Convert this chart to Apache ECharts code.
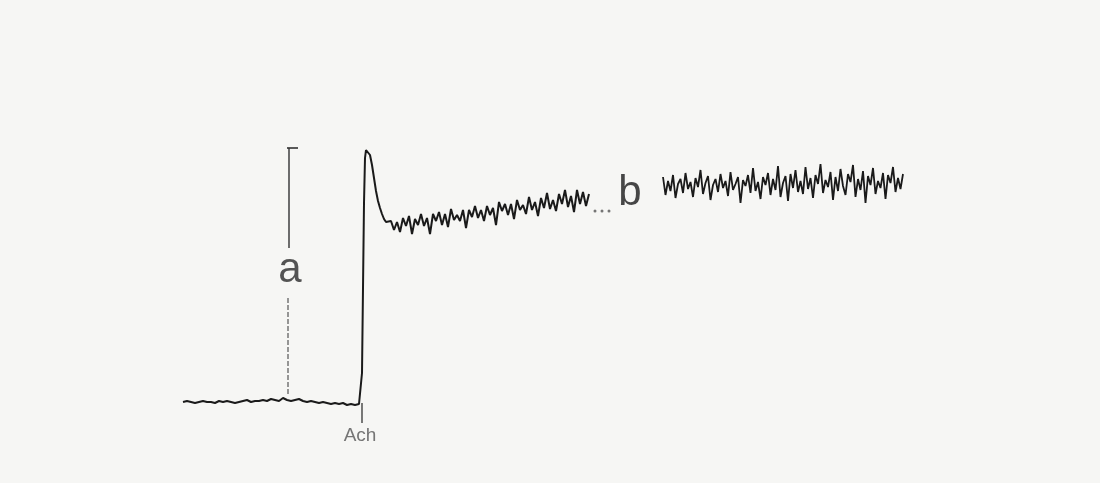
<!DOCTYPE html>
<html><head><meta charset="utf-8">
<script src="https://cdn.jsdelivr.net/npm/echarts@6/dist/echarts.min.js"></script>
<style>html,body{margin:0;padding:0;background:#f6f6f4}#c{width:1100px;height:483px}</style>
</head><body><div id="c"></div>
<script>
// Time axis: 0 = Ach application; response in arbitrary units (baseline = 0, peak "a" = 255)
const baselineStart = -179, baselineStep = 4;
const baselineVals = [1,2,1,0,1,2,1,1,0,2,1,2,1,0,1,2,3,1,2,2,3,2,4,3,2,5,3,2,3,4,2,1,2,1,0,1,0,-1,0,-1,0,-2,-1,-2,-1];
const peakTimes = [-1,0,2,3,4,5,6,8,10,12,14,16,18,20,22,24,26];
const peakVals  = [-2,30,200,245,253,255,253,248,238,225,212,202,195,189,184,181,180];
const phase1Start = 29, phase1Step = 3;
const phase1Vals = [182,173,181,171,185,177,187,169,184,178,189,177,185,169,189,182,191,178,189,176,194,183,188,182,193,175,193,186,197,185,193,182,197,188,195,178,201,192,199,188,199,184,203,193,198,189,206,193,201,187,205,195,210,194,203,192,209,199,213,196,207,191,213,199,211,197,209];
const phaseBStart = 301, phaseBStep = 2.5;
const phaseBVals = [226,208,222,212,228,205,219,224,210,230,214,221,206,225,216,233,209,220,227,203,218,224,211,229,215,222,207,231,213,219,226,200,223,217,228,210,235,212,221,204,226,218,230,208,224,213,237,206,220,227,202,229,215,233,211,222,209,236,214,225,205,228,219,239,210,223,216,231,203,226,212,234,217,208,229,221,238,206,224,213,232,200,227,218,235,209,222,215,230,204,228,220,236,211,225,214,229];
const gapDotTimes = [233,240,247];
const gapDotVal = 192;
const scaleBarT = -73, scaleBarTop = 255, scaleBarBottom = 155;
const scaleDashT = -74, scaleDashTop = 105, scaleDashBottom = 8;
const capLeft = -75, capRight = -64;
const achMarkBottom = -20;
const labels = [{t:-72,v:133,text:'a'},{t:268,v:210,text:'b'},{t:-2,v:-33,text:'Ach'}];

const seq = (start, step, vals) => vals.map((v,i)=>[start+i*step, v]);
const mk = (data, style) => ({type:'line', data, symbol:'none', animation:false, silent:true, lineStyle:style, z:3});

const peakData = peakTimes.map((t,i)=>[t,peakVals[i]]);
const seg1 = seq(baselineStart, baselineStep, baselineVals).concat(peakData, seq(phase1Start, phase1Step, phase1Vals));
const font = 'Liberation Sans, Arial, sans-serif';

const chart = echarts.init(document.getElementById('c'));
chart.setOption({
  backgroundColor:'#f6f6f4',
  grid:{left:0,right:0,top:0,bottom:0},
  xAxis:{type:'value',min:-362,max:738,show:false},
  yAxis:{type:'value',min:-80,max:403,show:false},
  series:[
    mk(seg1, {color:'#1a1a1a', width:2}),
    mk(seq(phaseBStart, phaseBStep, phaseBVals), {color:'#1a1a1a', width:1.8}),
    mk([[scaleBarT,scaleBarTop],[scaleBarT,scaleBarBottom]], {color:'#333',width:1.4}),
    mk([[capLeft,scaleBarTop],[capRight,scaleBarTop]], {color:'#333',width:1.6}),
    mk([[scaleDashT,scaleDashTop],[scaleDashT,scaleDashBottom]], {color:'#555',width:1.2,type:[5,2]}),
    mk([[0,0],[0,achMarkBottom]], {color:'#333',width:1.3}),
    {type:'scatter',data:gapDotTimes.map(t=>[t,gapDotVal]),symbolSize:3,itemStyle:{color:'#555'},animation:false,silent:true},
    {type:'scatter',symbolSize:0,animation:false,silent:true,
     data:[
       {value:[labels[0].t,labels[0].v],label:{show:true,formatter:labels[0].text,fontSize:42,color:'#2a2a2a',fontFamily:font,position:'inside'}},
       {value:[labels[1].t,labels[1].v],label:{show:true,formatter:labels[1].text,fontSize:42,color:'#1a1a1a',fontFamily:font,position:'inside'}},
       {value:[labels[2].t,labels[2].v],label:{show:true,formatter:labels[2].text,fontSize:19,color:'#555',fontFamily:font,position:'inside'}}
     ]}
  ]
});
</script></body></html>
